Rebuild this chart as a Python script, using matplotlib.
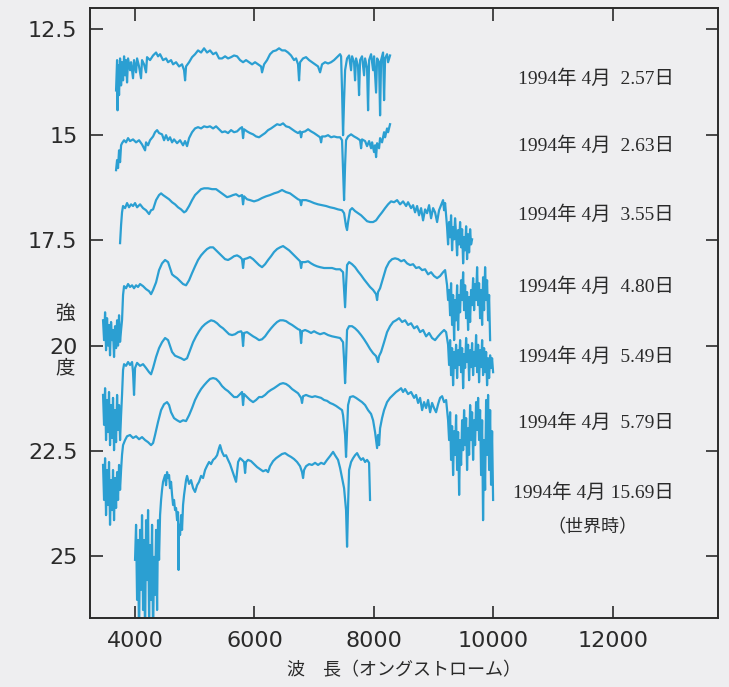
import matplotlib
matplotlib.use("Agg")
import matplotlib.pyplot as plt

# spectra of the supernova (wavelength in angstrom, brightness in magnitude)
dates = ["1994年 4月  2.57日", "1994年 4月  2.63日", "1994年 4月  3.55日",
         "1994年 4月  4.80日", "1994年 4月  5.49日", "1994年 4月  5.79日",
         "1994年 4月 15.69日"]

wave_1 = [3682, 3699, 3707, 3715, 3732, 3749, 3766, 3782, 3799, 3816, 3833, 3849, 3866, 3883, 3916, 3933,
          3966, 3983, 4017, 4034, 4067, 4100, 4117, 4151, 4184, 4201, 4251, 4302, 4352, 4385, 4419, 4469,
          4519, 4553, 4603, 4637, 4687, 4737, 4787, 4821, 4838, 4854, 4905, 4955, 5005, 5055, 5106, 5156,
          5206, 5256, 5307, 5357, 5407, 5457, 5508, 5558, 5608, 5658, 5709, 5759, 5809, 5859, 5910, 5960,
          6010, 6060, 6111, 6127, 6161, 6211, 6261, 6312, 6362, 6412, 6462, 6513, 6563, 6613, 6663, 6697,
          6730, 6747, 6764, 6814, 6864, 6915, 6965, 7015, 7065, 7099, 7132, 7183, 7233, 7283, 7333, 7384,
          7434, 7451, 7467, 7484, 7501, 7518, 7551, 7585, 7618, 7635, 7668, 7685, 7702, 7735, 7752, 7769,
          7802, 7836, 7853, 7886, 7903, 7920, 7953, 7987, 8003, 8037, 8054, 8087, 8104, 8121, 8154, 8171,
          8188, 8221, 8238, 8271]
mag_1 = [13.95, 13.23, 14.42, 13.35, 14.06, 13.19, 13.83, 13.28, 13.71, 13.14, 13.59, 13.23, 13.76, 13.19, 13.47, 13.28,
         13.66, 13.23, 13.52, 13.19, 13.38, 13.66, 13.23, 13.33, 13.52, 13.16, 13.23, 13.12, 13.05, 13.14, 13.09, 13.23,
         13.19, 13.28, 13.23, 13.33, 13.28, 13.38, 13.33, 13.47, 13.71, 13.38, 13.28, 13.16, 13.09, 13.00, 13.05, 12.95,
         13.05, 13.00, 13.09, 13.05, 13.19, 13.19, 13.14, 13.19, 13.16, 13.12, 13.14, 13.23, 13.28, 13.23, 13.28, 13.33,
         13.28, 13.33, 13.38, 13.52, 13.33, 13.23, 13.09, 13.02, 13.00, 12.95, 13.00, 13.00, 13.05, 13.12, 13.23, 13.19,
         13.33, 13.71, 13.28, 13.19, 13.16, 13.23, 13.28, 13.33, 13.38, 13.52, 13.33, 13.28, 13.31, 13.28, 13.23, 13.16,
         13.09, 13.14, 13.95, 15.01, 14.18, 13.47, 13.19, 13.12, 13.47, 13.14, 13.28, 13.71, 13.19, 13.38, 14.06, 13.23,
         13.14, 13.59, 13.19, 13.42, 14.42, 13.23, 13.09, 13.47, 13.14, 14.00, 13.19, 13.28, 14.54, 13.23, 13.05, 14.18,
         13.19, 13.09, 13.28, 13.12]

wave_2 = [3682, 3699, 3715, 3732, 3749, 3766, 3782, 3816, 3849, 3883, 3916, 3966, 4017, 4067, 4117, 4168,
          4184, 4218, 4251, 4302, 4335, 4369, 4402, 4452, 4486, 4519, 4553, 4586, 4620, 4653, 4704, 4754,
          4804, 4838, 4871, 4905, 4955, 5005, 5055, 5106, 5156, 5206, 5256, 5307, 5357, 5407, 5457, 5508,
          5558, 5608, 5658, 5709, 5759, 5792, 5809, 5826, 5876, 5926, 5977, 6027, 6077, 6127, 6178, 6228,
          6278, 6328, 6379, 6429, 6479, 6529, 6580, 6630, 6680, 6730, 6764, 6781, 6797, 6848, 6898, 6948,
          6998, 7049, 7099, 7116, 7132, 7183, 7233, 7283, 7333, 7384, 7434, 7467, 7484, 7501, 7518, 7534,
          7568, 7618, 7668, 7719, 7769, 7786, 7802, 7853, 7886, 7920, 7953, 7970, 8003, 8020, 8037, 8054,
          8087, 8104, 8137, 8171, 8188, 8221, 8238, 8271]
mag_2 = [15.84, 15.60, 15.79, 15.37, 15.65, 15.25, 15.20, 15.13, 15.18, 15.08, 15.15, 15.11, 15.18, 15.13, 15.23, 15.37,
         15.18, 15.25, 15.13, 15.04, 14.94, 14.89, 14.96, 14.99, 15.13, 15.01, 15.13, 15.06, 15.18, 15.11, 15.20, 15.13,
         15.25, 15.15, 15.27, 15.08, 14.94, 14.85, 14.82, 14.85, 14.80, 14.82, 14.80, 14.85, 14.80, 14.87, 14.94, 14.92,
         14.96, 14.89, 14.94, 14.92, 14.85, 14.82, 15.08, 14.87, 14.92, 14.96, 14.99, 15.04, 15.06, 15.01, 14.96, 14.89,
         14.85, 14.80, 14.75, 14.77, 14.73, 14.80, 14.82, 14.87, 14.92, 14.96, 14.92, 15.06, 14.94, 14.92, 14.87, 14.92,
         14.96, 15.01, 15.06, 15.18, 15.04, 15.04, 15.01, 15.06, 15.04, 15.06, 15.06, 15.13, 15.84, 16.55, 15.72, 15.13,
         15.04, 14.99, 15.04, 15.08, 15.13, 15.32, 15.11, 15.15, 15.27, 15.15, 15.32, 15.18, 15.41, 15.25, 15.53, 15.20,
         15.32, 15.08, 15.18, 14.94, 15.06, 14.85, 14.94, 14.75]

wave_3 = [3749, 3766, 3782, 3799, 3833, 3866, 3899, 3933, 3966, 4000, 4034, 4084, 4134, 4184, 4235, 4268,
          4302, 4352, 4402, 4436, 4469, 4519, 4570, 4620, 4670, 4720, 4771, 4821, 4854, 4905, 4955, 5005,
          5055, 5106, 5156, 5223, 5290, 5357, 5424, 5491, 5541, 5591, 5642, 5692, 5742, 5792, 5809, 5826,
          5876, 5926, 5993, 6060, 6127, 6194, 6261, 6328, 6396, 6462, 6529, 6596, 6663, 6730, 6764, 6781,
          6797, 6864, 6931, 6998, 7065, 7132, 7200, 7266, 7333, 7400, 7467, 7501, 7534, 7551, 7568, 7601,
          7635, 7685, 7735, 7786, 7836, 7886, 7936, 7987, 8037, 8087, 8137, 8188, 8238, 8288, 8338, 8389,
          8439, 8489, 8540, 8573, 8623, 8657, 8690, 8724, 8757, 8791, 8824, 8858, 8891, 8925, 8958, 8992,
          9025, 9059, 9092, 9126, 9159, 9176, 9193, 9226, 9243, 9260, 9277, 9293, 9310, 9327, 9344, 9360,
          9377, 9394, 9411, 9428, 9444, 9461, 9478, 9495, 9511, 9528, 9545, 9561, 9578, 9595, 9612, 9628,
          9645]
mag_3 = [17.57, 17.14, 16.84, 16.69, 16.74, 16.62, 16.72, 16.65, 16.69, 16.62, 16.72, 16.65, 16.74, 16.79, 16.88, 16.79,
         16.77, 16.55, 16.43, 16.39, 16.43, 16.48, 16.53, 16.60, 16.65, 16.72, 16.77, 16.84, 16.81, 16.69, 16.55, 16.43,
         16.36, 16.29, 16.27, 16.27, 16.29, 16.29, 16.36, 16.43, 16.48, 16.46, 16.43, 16.41, 16.46, 16.43, 16.65, 16.46,
         16.53, 16.55, 16.58, 16.55, 16.50, 16.46, 16.43, 16.39, 16.36, 16.31, 16.36, 16.39, 16.46, 16.53, 16.55, 16.67,
         16.55, 16.55, 16.58, 16.62, 16.65, 16.67, 16.69, 16.72, 16.74, 16.77, 16.79, 16.86, 17.17, 17.26, 17.07, 16.79,
         16.74, 16.81, 16.86, 16.91, 16.98, 17.05, 17.07, 17.07, 17.03, 16.93, 16.84, 16.74, 16.65, 16.58, 16.60, 16.55,
         16.65, 16.58, 16.69, 16.60, 16.74, 16.67, 16.84, 16.69, 16.91, 16.74, 17.03, 16.77, 16.86, 16.67, 16.98, 16.74,
         16.84, 17.07, 16.79, 16.67, 16.55, 16.79, 16.62, 17.19, 17.60, 17.07, 17.43, 16.91, 17.74, 17.19, 17.48, 16.98,
         17.36, 17.86, 17.26, 17.60, 17.07, 17.67, 17.24, 18.05, 17.43, 17.74, 17.17, 17.95, 17.36, 17.79, 17.24, 17.60,
         17.48]

wave_4 = [3464, 3481, 3498, 3514, 3531, 3548, 3564, 3581, 3598, 3615, 3631, 3648, 3665, 3682, 3699, 3715,
          3732, 3749, 3766, 3782, 3799, 3816, 3849, 3883, 3916, 3950, 3983, 4017, 4050, 4084, 4134, 4184,
          4235, 4268, 4302, 4352, 4402, 4452, 4503, 4553, 4586, 4620, 4653, 4704, 4754, 4804, 4854, 4905,
          4955, 5005, 5055, 5106, 5156, 5206, 5256, 5307, 5357, 5407, 5457, 5508, 5558, 5608, 5658, 5709,
          5759, 5792, 5809, 5826, 5876, 5926, 5977, 6027, 6077, 6127, 6178, 6228, 6278, 6328, 6379, 6429,
          6479, 6529, 6580, 6630, 6680, 6730, 6764, 6781, 6797, 6848, 6898, 6948, 6998, 7049, 7099, 7166,
          7233, 7300, 7367, 7434, 7484, 7501, 7518, 7534, 7551, 7585, 7635, 7685, 7735, 7786, 7836, 7886,
          7936, 7987, 8037, 8054, 8070, 8104, 8154, 8204, 8255, 8305, 8355, 8406, 8456, 8506, 8556, 8607,
          8657, 8707, 8757, 8808, 8858, 8908, 8958, 9008, 9059, 9109, 9159, 9193, 9226, 9243, 9260, 9277,
          9293, 9310, 9327, 9344, 9360, 9377, 9394, 9411, 9428, 9444, 9461, 9478, 9495, 9511, 9528, 9545,
          9561, 9578, 9595, 9612, 9628, 9645, 9662, 9679, 9695, 9712, 9729, 9746, 9762, 9779, 9796, 9813,
          9829, 9846, 9863, 9880, 9896, 9913, 9930, 9947]
mag_4 = [19.40, 19.87, 19.21, 20.11, 19.35, 20.00, 19.51, 20.23, 19.44, 19.87, 19.63, 20.27, 19.54, 20.06, 19.40, 20.00,
         19.28, 19.91, 19.63, 19.40, 18.80, 18.59, 18.64, 18.54, 18.61, 18.57, 18.64, 18.57, 18.61, 18.54, 18.59, 18.66,
         18.71, 18.78, 18.68, 18.50, 18.21, 18.05, 17.97, 18.02, 18.16, 18.31, 18.35, 18.40, 18.47, 18.54, 18.57, 18.45,
         18.28, 18.12, 17.97, 17.86, 17.78, 17.71, 17.67, 17.67, 17.74, 17.81, 17.88, 17.95, 17.97, 17.93, 17.88, 17.86,
         17.90, 17.95, 18.16, 17.95, 17.93, 17.90, 17.95, 18.02, 18.09, 18.14, 18.07, 17.97, 17.88, 17.78, 17.71, 17.67,
         17.64, 17.69, 17.74, 17.81, 17.88, 17.95, 18.00, 18.16, 18.02, 18.02, 18.00, 18.05, 18.09, 18.12, 18.14, 18.16,
         18.16, 18.16, 18.19, 18.19, 18.26, 18.68, 19.09, 18.57, 18.09, 18.02, 18.07, 18.14, 18.24, 18.33, 18.43, 18.52,
         18.61, 18.68, 18.78, 18.92, 18.73, 18.64, 18.40, 18.16, 18.02, 17.95, 17.93, 17.95, 18.00, 17.97, 18.05, 18.09,
         18.07, 18.16, 18.14, 18.21, 18.19, 18.31, 18.26, 18.35, 18.40, 18.35, 18.26, 18.21, 18.57, 18.92, 18.68, 19.28,
         18.52, 19.51, 18.80, 19.87, 18.92, 19.40, 18.57, 19.63, 18.80, 19.21, 18.45, 18.92, 18.26, 19.16, 18.57, 19.35,
         18.73, 19.63, 18.85, 19.44, 18.68, 19.04, 18.40, 19.16, 18.54, 18.92, 18.14, 19.04, 18.52, 19.35, 18.68, 19.51,
         18.38, 19.16, 18.14, 18.92, 18.45, 19.40, 18.80, 19.87]

wave_5 = [3464, 3481, 3498, 3514, 3531, 3548, 3564, 3581, 3598, 3615, 3631, 3648, 3665, 3682, 3699, 3715,
          3732, 3749, 3766, 3782, 3799, 3816, 3849, 3883, 3916, 3950, 3966, 3983, 4000, 4034, 4084, 4134,
          4184, 4235, 4268, 4302, 4352, 4402, 4452, 4503, 4553, 4586, 4620, 4670, 4720, 4771, 4821, 4871,
          4921, 4972, 5022, 5072, 5122, 5173, 5223, 5273, 5323, 5374, 5424, 5474, 5524, 5575, 5625, 5675,
          5726, 5776, 5792, 5809, 5826, 5876, 5926, 5977, 6027, 6077, 6127, 6178, 6228, 6278, 6328, 6379,
          6429, 6479, 6529, 6580, 6630, 6680, 6730, 6764, 6781, 6797, 6848, 6898, 6948, 6998, 7049, 7099,
          7166, 7233, 7300, 7367, 7434, 7484, 7501, 7518, 7534, 7551, 7585, 7635, 7685, 7735, 7786, 7836,
          7886, 7936, 7987, 8037, 8070, 8087, 8121, 8171, 8221, 8271, 8322, 8372, 8422, 8473, 8523, 8573,
          8623, 8674, 8724, 8774, 8824, 8875, 8925, 8975, 9025, 9076, 9126, 9176, 9210, 9243, 9260, 9277,
          9293, 9310, 9327, 9344, 9360, 9377, 9394, 9411, 9428, 9444, 9461, 9478, 9495, 9511, 9528, 9545,
          9561, 9578, 9595, 9612, 9628, 9645, 9662, 9679, 9695, 9712, 9729, 9746, 9762, 9779, 9796, 9813,
          9829, 9846, 9863, 9880, 9896, 9913, 9930, 9947, 9963, 9980, 9997]
mag_5 = [21.17, 21.88, 21.01, 22.24, 21.29, 22.05, 21.10, 22.36, 21.41, 22.19, 21.24, 22.48, 21.53, 22.29, 21.17, 22.00,
         21.41, 22.24, 21.65, 21.17, 20.58, 20.44, 20.48, 20.39, 20.46, 20.39, 20.63, 21.17, 20.53, 20.41, 20.48, 20.44,
         20.53, 20.63, 20.68, 20.53, 20.27, 20.06, 19.92, 19.82, 19.87, 20.01, 20.15, 20.24, 20.27, 20.30, 20.34, 20.30,
         20.11, 19.92, 19.78, 19.66, 19.56, 19.49, 19.44, 19.40, 19.42, 19.47, 19.54, 19.59, 19.66, 19.73, 19.75, 19.73,
         19.68, 19.66, 19.70, 20.01, 19.70, 19.68, 19.73, 19.78, 19.82, 19.87, 19.85, 19.78, 19.68, 19.59, 19.51, 19.44,
         19.40, 19.40, 19.42, 19.47, 19.51, 19.56, 19.61, 19.63, 19.94, 19.66, 19.63, 19.66, 19.70, 19.66, 19.70, 19.73,
         19.70, 19.75, 19.78, 19.80, 19.82, 19.92, 20.34, 20.89, 20.34, 19.63, 19.54, 19.54, 19.59, 19.66, 19.75, 19.85,
         19.96, 20.08, 20.18, 20.25, 20.39, 20.25, 20.15, 19.92, 19.68, 19.54, 19.44, 19.40, 19.35, 19.44, 19.40, 19.51,
         19.47, 19.59, 19.54, 19.68, 19.63, 19.78, 19.70, 19.82, 19.87, 19.78, 19.70, 19.63, 19.68, 19.98, 20.46, 19.87,
         20.70, 20.06, 20.94, 20.15, 20.53, 19.98, 20.77, 20.11, 20.46, 19.87, 20.63, 20.06, 21.01, 20.20, 20.53, 19.82,
         20.39, 19.98, 20.82, 20.11, 20.51, 19.94, 20.70, 20.15, 20.48, 19.75, 20.63, 19.98, 20.87, 20.11, 20.51, 19.87,
         20.70, 20.06, 20.63, 20.15, 20.94, 20.30, 20.77, 20.23, 20.53, 20.30, 20.63]

wave_6 = [3464, 3481, 3498, 3514, 3531, 3548, 3564, 3581, 3598, 3615, 3631, 3648, 3665, 3682, 3699, 3715,
          3732, 3749, 3766, 3782, 3799, 3833, 3866, 3916, 3966, 4017, 4067, 4117, 4168, 4218, 4268, 4302,
          4335, 4385, 4436, 4486, 4536, 4570, 4603, 4653, 4704, 4754, 4804, 4854, 4905, 4955, 5005, 5055,
          5106, 5156, 5206, 5256, 5307, 5357, 5407, 5457, 5508, 5558, 5608, 5658, 5709, 5759, 5792, 5809,
          5826, 5876, 5926, 5977, 6027, 6077, 6127, 6178, 6228, 6278, 6328, 6379, 6429, 6479, 6529, 6580,
          6630, 6680, 6730, 6781, 6797, 6814, 6864, 6915, 6965, 7015, 7065, 7116, 7166, 7216, 7266, 7317,
          7367, 7417, 7467, 7484, 7518, 7534, 7551, 7568, 7601, 7652, 7702, 7752, 7802, 7853, 7903, 7953,
          7987, 8020, 8037, 8054, 8070, 8087, 8104, 8137, 8171, 8221, 8271, 8322, 8372, 8422, 8456, 8489,
          8523, 8573, 8623, 8674, 8707, 8741, 8774, 8808, 8841, 8875, 8908, 8942, 8975, 9008, 9042, 9076,
          9109, 9143, 9176, 9210, 9243, 9260, 9277, 9293, 9310, 9327, 9344, 9360, 9377, 9394, 9411, 9428,
          9444, 9461, 9478, 9495, 9511, 9528, 9545, 9561, 9578, 9595, 9612, 9628, 9645, 9662, 9679, 9695,
          9712, 9729, 9746, 9762, 9779, 9796, 9813, 9829, 9846, 9863, 9880, 9896, 9913, 9930, 9947, 9963,
          9980, 9997]
mag_6 = [22.83, 23.66, 22.67, 24.02, 22.95, 23.78, 22.76, 24.25, 23.19, 23.90, 22.95, 24.14, 23.14, 23.85, 23.00, 23.66,
         22.83, 23.42, 22.95, 22.59, 22.36, 22.24, 22.15, 22.12, 22.19, 22.15, 22.22, 22.17, 22.24, 22.29, 22.36, 22.31,
         22.12, 21.81, 21.53, 21.39, 21.34, 21.41, 21.58, 21.72, 21.77, 21.81, 21.77, 21.79, 21.65, 21.48, 21.29, 21.15,
         21.03, 20.94, 20.86, 20.79, 20.77, 20.79, 20.86, 20.96, 21.03, 21.08, 21.15, 21.22, 21.22, 21.15, 21.10, 21.41,
         21.15, 21.22, 21.29, 21.34, 21.29, 21.22, 21.22, 21.17, 21.10, 21.05, 21.01, 20.96, 20.91, 20.89, 20.91, 20.96,
         21.03, 21.08, 21.13, 21.24, 21.36, 21.20, 21.17, 21.20, 21.22, 21.20, 21.22, 21.24, 21.29, 21.31, 21.36, 21.39,
         21.43, 21.48, 21.53, 21.65, 22.12, 22.64, 22.00, 21.41, 21.22, 21.20, 21.24, 21.29, 21.34, 21.41, 21.53, 21.62,
         21.77, 22.05, 22.24, 22.43, 22.12, 22.36, 21.96, 21.72, 21.53, 21.34, 21.24, 21.17, 21.10, 21.05, 21.01, 21.10,
         21.03, 21.15, 21.10, 21.24, 21.17, 21.36, 21.24, 21.53, 21.34, 21.48, 21.29, 21.58, 21.36, 21.48, 21.58, 21.39,
         21.24, 21.20, 21.34, 21.29, 21.77, 22.24, 21.58, 22.71, 21.91, 23.07, 22.03, 22.59, 21.65, 22.95, 22.05, 23.54,
         22.24, 22.83, 21.77, 22.48, 21.53, 22.36, 21.72, 22.95, 21.96, 22.59, 21.41, 22.24, 21.58, 22.71, 21.77, 22.36,
         21.34, 22.00, 21.24, 22.24, 21.53, 23.07, 21.77, 24.14, 22.24, 23.42, 21.29, 22.59, 21.17, 22.95, 21.53, 23.30,
         22.03, 23.66]

wave_7 = [4000, 4017, 4034, 4050, 4067, 4084, 4100, 4117, 4134, 4151, 4168, 4184, 4201, 4218, 4235, 4251,
          4268, 4285, 4302, 4318, 4335, 4352, 4369, 4385, 4402, 4419, 4436, 4452, 4469, 4503, 4519, 4536,
          4553, 4570, 4586, 4603, 4620, 4637, 4653, 4670, 4687, 4704, 4720, 4729, 4737, 4754, 4771, 4787,
          4804, 4821, 4854, 4871, 4905, 4938, 4972, 5005, 5039, 5072, 5106, 5139, 5173, 5206, 5240, 5273,
          5307, 5340, 5374, 5407, 5424, 5457, 5491, 5524, 5558, 5591, 5625, 5658, 5692, 5709, 5726, 5759,
          5792, 5826, 5843, 5859, 5893, 5943, 5993, 6044, 6094, 6144, 6194, 6228, 6261, 6312, 6362, 6412,
          6462, 6513, 6563, 6613, 6663, 6714, 6764, 6797, 6814, 6831, 6864, 6915, 6965, 7015, 7065, 7116,
          7166, 7216, 7266, 7317, 7350, 7400, 7434, 7467, 7501, 7534, 7551, 7568, 7585, 7618, 7652, 7685,
          7719, 7752, 7786, 7819, 7853, 7886, 7920, 7936]
mag_7 = [25.08, 24.25, 26.03, 24.61, 26.98, 24.37, 25.79, 24.02, 26.27, 24.61, 26.98, 24.14, 25.56, 23.90, 26.50, 24.73,
         26.03, 24.25, 26.98, 25.01, 25.91, 24.37, 26.27, 24.14, 25.08, 24.02, 23.66, 23.42, 23.23, 23.07, 23.31, 23.00,
         23.14, 23.07, 23.38, 23.23, 23.54, 23.78, 23.66, 23.90, 23.85, 24.14, 23.95, 25.32, 24.25, 24.49, 24.02, 24.37,
         23.78, 23.54, 23.19, 23.09, 23.28, 23.19, 23.38, 23.47, 23.31, 23.23, 23.09, 23.14, 22.95, 22.85, 22.76, 22.81,
         22.71, 22.67, 22.60, 22.43, 22.36, 22.52, 22.62, 22.60, 22.71, 22.81, 22.95, 23.09, 23.23, 23.00, 22.76, 22.67,
         22.71, 22.76, 23.02, 22.76, 22.71, 22.74, 22.81, 22.88, 22.93, 22.98, 22.95, 23.00, 22.86, 22.74, 22.67, 22.62,
         22.57, 22.55, 22.60, 22.64, 22.69, 22.76, 22.86, 23.00, 23.14, 22.95, 22.86, 22.81, 22.83, 22.78, 22.83, 22.78,
         22.81, 22.71, 22.62, 22.52, 22.60, 22.71, 22.90, 23.14, 23.38, 23.90, 24.77, 23.78, 22.95, 22.76, 22.67, 22.60,
         22.55, 22.64, 22.71, 22.67, 22.76, 22.71, 22.78, 23.66]

waves = [wave_1, wave_2, wave_3, wave_4, wave_5, wave_6, wave_7]
mags = [mag_1, mag_2, mag_3, mag_4, mag_5, mag_6, mag_7]

x_ticks = [4000, 6000, 8000, 10000, 12000]
y_ticks = [12.5, 15, 17.5, 20, 22.5, 25]
y_tick_labels = ["12.5", "15", "17.5", "20", "22.5", "25"]

bg = "#eeeef0"
line_col = "#2b9fd2"
ink = "#2a2a2a"
cjk = ["Noto Sans CJK JP", "DejaVu Sans"]
serif_cjk = ["Liberation Serif", "Noto Sans CJK JP"]

fig = plt.figure(figsize=(7.29, 6.87), dpi=100, facecolor=bg)
ax = fig.add_axes([0.1235, 0.1004, 0.8615, 0.8876])
ax.set_facecolor(bg)

for w, m in zip(waves, mags):
    ax.plot(w, m, color=line_col, lw=1.6, solid_joinstyle="round")

ax.set_xlim(3246, 13765)
ax.set_ylim(26.46, 12.0)

ax.set_xticks(x_ticks)
ax.set_yticks(y_ticks)
ax.set_yticklabels(y_tick_labels)
ax.tick_params(direction="in", length=9, width=1.2, colors=ink, labelsize=16,
               top=True, right=True, pad=9)
for s in ax.spines.values():
    s.set_linewidth(1.4)
    s.set_color(ink)

# date labels beside each spectrum
label_y = [0.885, 0.775, 0.661, 0.544, 0.428, 0.320, 0.205]
for d, yy in zip(dates, label_y):
    ax.text(0.93, yy, d, transform=ax.transAxes, ha="right", va="center",
            fontsize=14, family=serif_cjk, color=ink)
ax.text(0.80, 0.149, "（世界時）", transform=ax.transAxes, ha="center", va="center",
        fontsize=13, family=cjk, color=ink)

# vertical axis title, two characters stacked
ax.text(-0.04, 0.50, "強", transform=ax.transAxes, ha="center", va="center",
        fontsize=14, family=cjk, color=ink)
ax.text(-0.04, 0.41, "度", transform=ax.transAxes, ha="center", va="center",
        fontsize=14, family=cjk, color=ink)

ax.set_xlabel("波　長（オングストローム）", fontsize=13, family=cjk, color=ink)
ax.xaxis.set_label_coords(0.5, -0.085)
ax.xaxis.label.set_va("center")

fig.savefig("out.png", dpi=100, facecolor=bg)
